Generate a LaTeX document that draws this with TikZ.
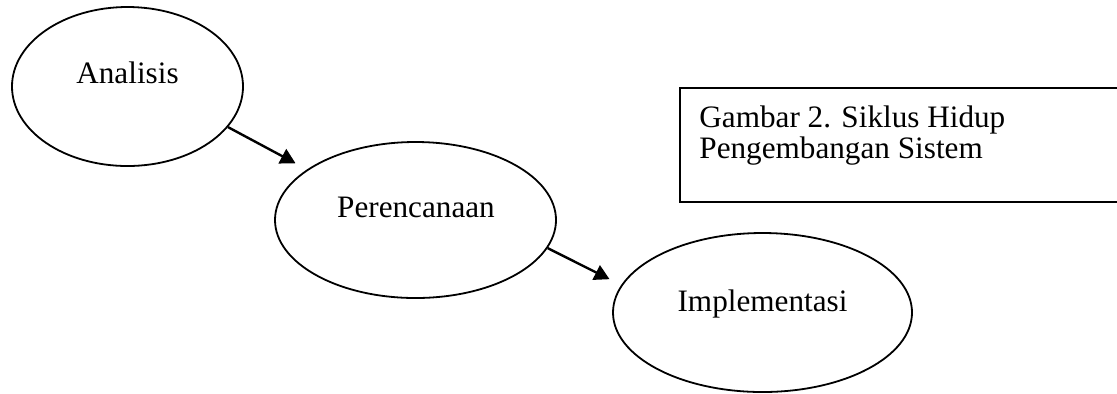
\documentclass[tikz,border=0pt]{standalone}
\usepackage{fontspec}
\setmainfont{Liberation Serif}
\usetikzlibrary{shapes.geometric,arrows.meta}
\begin{document}
\begin{tikzpicture}[x=0.5pt,y=-0.5pt,
  stage/.style={ellipse, draw, line width=0.9pt, inner sep=0pt},
  lbl/.style={font=\fontsize{15.6pt}{15.8pt}\selectfont, inner sep=0pt},
  flow/.style={line width=1.2pt, -{Triangle[length=7.5pt,width=8pt]}, shorten >=6.5pt}]
\useasboundingbox (0,0) rectangle (1117,393);
\clip (0,0) rectangle (1117,393);
% phases of the cycle
\node[stage, minimum width=115.5pt, minimum height=79.5pt] (ana) at (127.5,86.5) {};
\node[stage, minimum width=140.5pt, minimum height=78pt] (per) at (415.5,220) {};
\node[stage, minimum width=149.5pt, minimum height=79.5pt] (imp) at (762.5,312.5) {};
\node[lbl, anchor=base] (anat) at (127.5,83) {Analisis};
\node[lbl, anchor=base] (pert) at (416,217) {Perencanaan};
\node[lbl, anchor=base] (impt) at (762.5,311) {Implementasi};
% transitions
\draw[flow] (ana.-22) -- (per.155);
\draw[flow] (per.-12) -- (imp.169);
% caption box, running off the right edge
\node[draw, line width=0.9pt, inner sep=0pt, anchor=north west,
      minimum width=222pt, minimum height=57pt] (fig) at (679,87) {};
\node[lbl, anchor=base west] (figt1) at (699,127) {Gambar 2. Siklus Hidup};
\node[lbl, anchor=base west] (figt2) at (699,158.5) {Pengembangan Sistem};
\end{tikzpicture}
\end{document}
